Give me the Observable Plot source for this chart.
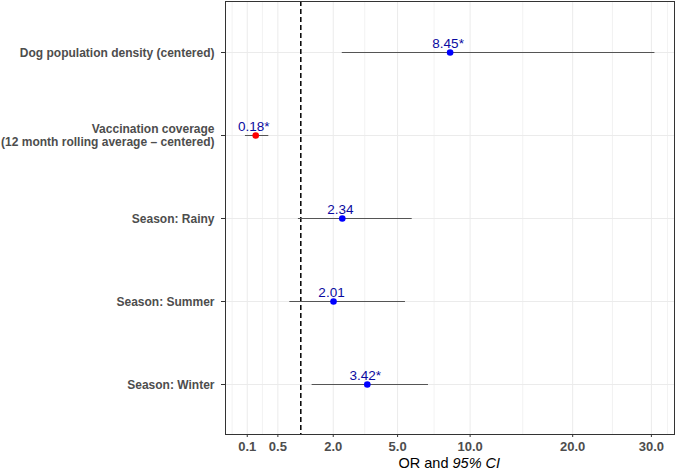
<!DOCTYPE html>
<html>
<head>
<meta charset="utf-8">
<script src="https://cdn.jsdelivr.net/npm/d3@7"></script>
<script src="https://cdn.jsdelivr.net/npm/@observablehq/plot@0.6"></script>
<style>
  html, body { margin: 0; padding: 0; background: #fff; }
  #chart svg { display: block; }
</style>
</head>
<body>
<div id="chart"></div>
<script>
// Data (top to bottom)
const terms = [
  "Dog population density (centered)",
  "Vaccination coverage\n(12 month rolling average – centered)",
  "Season: Rainy",
  "Season: Summer",
  "Season: Winter"
];
const oddsRatios = [8.45, 0.18, 2.34, 2.01, 3.42];
const ciLower = [2.34, 0.086, 0.94, 0.74, 1.31];
const ciUpper = [30.5, 0.35, 5.87, 5.46, 6.92];
const significant = [true, true, false, false, true];
const pointColors = ["#0000FF", "#FF0000", "#0000FF", "#0000FF", "#0000FF"];

// Axis ticks
const xTicks = [0.1, 0.5, 2, 5, 10, 20, 30];
const xMinorGrid = [0.015, 0.26, 3.3, 7.3, 14.7, 24.8, 32.3];
const referenceLine = [1];
const xLabelPlain = ["OR and"];
const xLabelItalic = ["95% CI"];

const rows = terms.map((t, i) => ({
  term: t,
  or: oddsRatios[i],
  lo: ciLower[i],
  hi: ciUpper[i],
  label: oddsRatios[i].toFixed(2) + (significant[i] ? "*" : ""),
  color: pointColors[i]
}));

const font = "'Liberation Sans', Arial, Helvetica, sans-serif";

const chart = Plot.plot({
  width: 675,
  height: 469,
  marginLeft: 225,
  marginRight: 1,
  marginTop: 1,
  marginBottom: 35,
  style: {fontFamily: font, background: "#fff"},
  x: {type: "sqrt", domain: [0.00147, 33.32], ticks: xTicks},
  y: {type: "point", domain: terms, padding: 0.6},
  marks: [
    Plot.ruleX(xMinorGrid, {stroke: "#EFEFEF", strokeWidth: 0.8}),
    Plot.gridX(xTicks, {stroke: "#EBEBEB", strokeOpacity: 1, strokeWidth: 1}),
    Plot.gridY(terms, {stroke: "#EBEBEB", strokeOpacity: 1, strokeWidth: 1}),
    Plot.ruleX(referenceLine, {stroke: "#000", strokeWidth: 1.5, strokeDasharray: "5,3"}),
    Plot.ruleY(rows, {y: "term", x1: "lo", x2: "hi", stroke: "#555", strokeWidth: 1}),
    Plot.dot(rows, {x: "or", y: "term", r: 3.3, fill: "color", stroke: null}),
    Plot.text(rows, {
      x: "or", y: "term", text: "label", fill: "#0A0AA0",
      fontSize: 13.5, lineAnchor: "bottom", dy: -5, dx: -2
    }),
    Plot.frame({stroke: "#333", strokeWidth: 1}),
    Plot.axisX(xTicks, {
      tickFormat: d3.format(".1f"), tickSize: 3, tickPadding: 4,
      fontSize: 13, fontWeight: "bold", color: "#4D4D4D", stroke: "#333",
      label: null
    }),
    Plot.axisY(terms, {
      tickSize: 4, tickPadding: 7, fontSize: 12, fontWeight: "bold",
      color: "#4D4D4D", stroke: "#333", label: null, lineWidth: Infinity,
      lineHeight: 1.1
    }),
    Plot.text(xLabelPlain, {
      frameAnchor: "bottom", text: d => d, textAnchor: "end",
      lineAnchor: "bottom", dy: 33, dx: -1.5, fontSize: 14.5, fill: "#000"
    }),
    Plot.text(xLabelItalic, {
      frameAnchor: "bottom", text: d => d, textAnchor: "start",
      lineAnchor: "bottom", dy: 33, dx: 2.5, fontSize: 14.5, fill: "#000",
      fontStyle: "italic"
    })
  ]
});

document.getElementById("chart").appendChild(chart);
</script>
</body>
</html>
